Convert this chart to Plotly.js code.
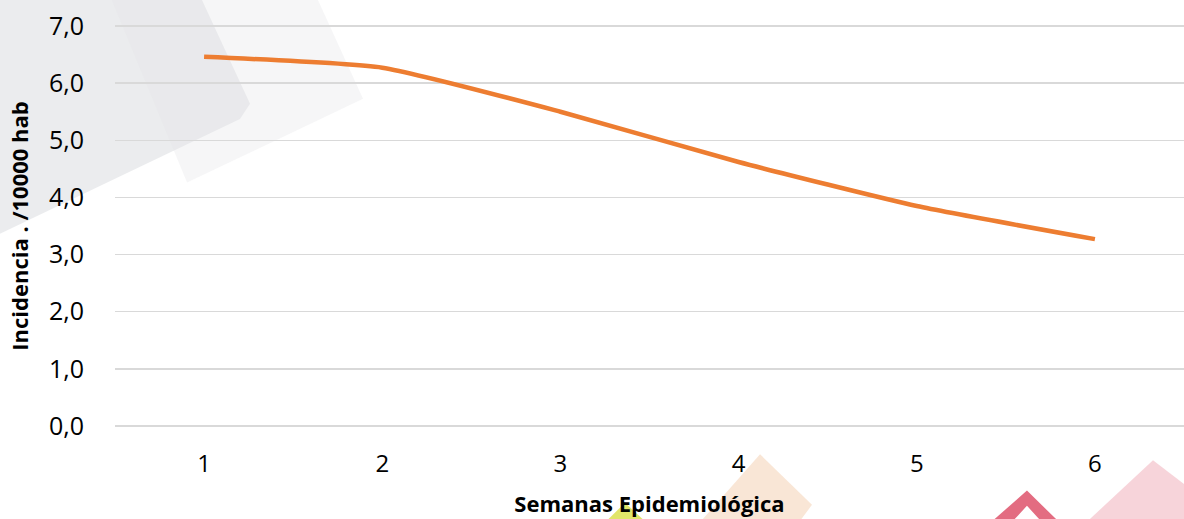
<!DOCTYPE html>
<html>
<head>
<meta charset="utf-8">
<script src="https://cdn.plot.ly/plotly-3.0.1.min.js"></script>
<style>html,body{margin:0;padding:0;background:#fff;}#chart{width:1184px;height:519px;}</style>
</head>
<body>
<div id="chart"></div>
<script>
const semanas = ["1", "2", "3", "4", "5", "6"];
const incidencia = [6.46, 6.27, 5.50, 4.62, 3.85, 3.27];
const yTicks = [0, 1, 2, 3, 4, 5, 6, 7];

const trace = {
  x: semanas,
  y: incidencia,
  type: "scatter",
  mode: "lines",
  line: {color: "#ED7D31", width: 4.5, shape: "spline", smoothing: 0.5},
  hoverinfo: "x+y"
};

function deco(path, fill) {
  return {type: "path", xref: "paper", yref: "paper", layer: "below",
          path: path, fillcolor: fill, line: {width: 0}};
}

const decoShapes = [
  deco("M -0.11 1.07 L -0.11 0.4775 L 0.1169 0.765 L 0.1263 0.8025 L 0.0795 1.07 Z", "rgba(222,224,226,0.6)"),
  deco("M -0.0047 1.07 L 0.0674 0.6075 L 0.232 0.815 L 0.188 1.07 Z", "rgba(228,230,232,0.35)"),
  deco("M 0.6034 -0.065 L 0.652 -0.19 L 0.638 -0.24 L 0.545 -0.24 Z", "rgba(247,222,200,0.75)"),
  deco("M 0.4771 -0.185 L 0.4995 -0.24 L 0.456 -0.24 Z", "rgba(222,226,90,0.9)"),
  deco("M 0.8165 -0.24 L 0.8531 -0.155 L 0.886 -0.24 L 0.8695 -0.24 L 0.8531 -0.1925 L 0.8365 -0.24 Z", "rgba(226,100,122,0.95)"),
  deco("M 0.906 -0.24 L 0.971 -0.08 L 1.05 -0.24 Z", "rgba(246,204,212,0.85)")
];

const layout = {
  width: 1184,
  height: 519,
  margin: {l: 115, r: 0, t: 24, b: 91},
  paper_bgcolor: "#ffffff",
  plot_bgcolor: "rgba(0,0,0,0)",
  showlegend: false,
  separators: ",.",
  font: {family: "Open Sans, Noto Sans, sans-serif", color: "#000"},
  xaxis: {
    type: "category",
    range: [-0.5, 5.5],
    showgrid: false,
    zeroline: false,
    showline: false,
    ticks: "",
    ticklabelstandoff: 19,
    tickfont: {size: 24, color: "#000"},
    title: {text: "<b>Semanas Epidemiológica</b>", font: {size: 22, color: "#000"}, standoff: 18}
  },
  yaxis: {
    range: [-0.035, 7.035],
    tickvals: yTicks,
    tickformat: ".1f",
    showgrid: true,
    gridcolor: "#d9d9d9",
    gridwidth: 1.5,
    zeroline: false,
    showline: false,
    ticks: "",
    ticklabelstandoff: 30,
    tickfont: {size: 25, color: "#000"},
    title: {text: "<b>Incidencia . /10000 hab</b>", font: {size: 22, color: "#000"}, standoff: 14}
  },
  shapes: decoShapes
};

Plotly.newPlot("chart", [trace], layout, {displayModeBar: false, staticPlot: true});
</script>
</body>
</html>
